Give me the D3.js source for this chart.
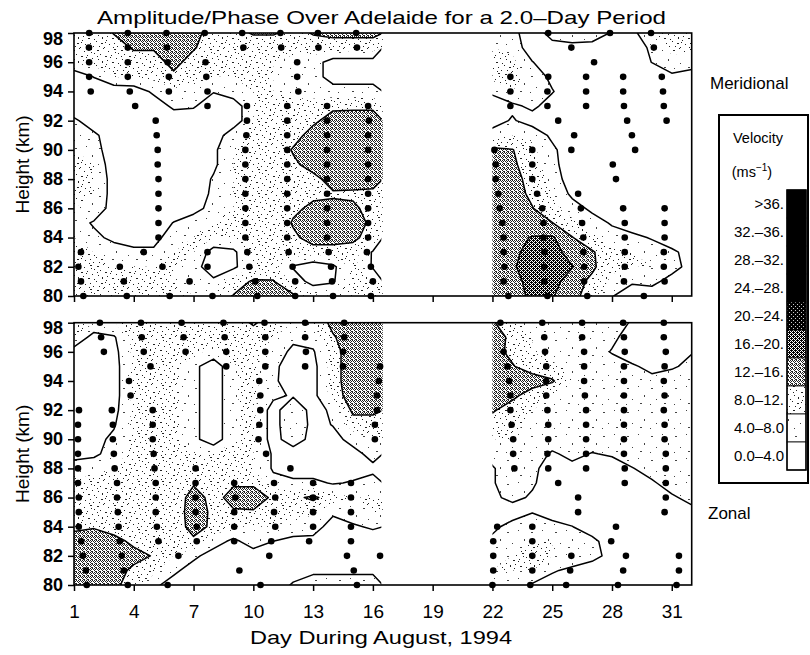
<!DOCTYPE html>
<html>
<head>
<meta charset="utf-8">
<script src="https://cdnjs.cloudflare.com/ajax/libs/d3/7.8.5/d3.min.js"></script>
<style>
  body { margin: 0; background: #fff; }
  text { font-family: 'Liberation Sans', Arial, sans-serif; fill: #000; }
</style>
</head>
<body>
<div id="chart"></div>
<script>
// grid rows run from 98 km (top) down to 80 km
const heights = d3.range(98, 79, -1)
const leftDays = d3.range(1, 17)
const rightDays = d3.range(22, 33)
const dayTicks = [1, 4, 7, 10, 13, 16, 19, 22, 25, 28, 31]
const heightTicks = d3.range(80, 99, 2)
const levels = [4, 8, 12, 16, 20, 24]
const lineLevels = [4, 12, 16, 20, 24]
const legendLabels = ['>36.', '32.\u201336.', '28.\u201332.', '24.\u201328.', '20.\u201324.',
  '16.\u201320.', '12.\u201316.', '8.0\u201312.', '4.0\u20138.0', '0.0\u20134.0']

// meridional amplitude (m/s), days 1..16
const merLeft = [
  [9, 9.5, 12.2, 14, 15, 15, 13.5, 10, 10, 12.5, 12.5, 10.5, 12.3, 13, 13, 13],
  [9.5, 9.5, 10, 12.5, 12.5, 14, 12.5, 9, 8.5, 9, 9, 9, 10, 10, 10, 10],
  [9, 9.5, 9.5, 10, 10, 13.5, 10, 9, 8, 8, 8, 7, 6, 2, 2, 2],
  [0, 4.2, 8, 9, 9, 11, 9, 8, 8, 8, 8, 7, 6, 2, 2, 2],
  [0, 0, 1, 1, 5, 7, 7, 4.3, 7, 8, 8, 7, 7, 6, 6, 6],
  [0, 1, 1, 1, 1, 5, 4.5, 1, 1, 8, 8, 9, 9, 11, 11, 11],
  [5, 1, 1, 1, 1, 1, 1, 1, 1, 8, 9, 10, 11, 14, 14.5, 14.5],
  [7, 5, 1, 1, 1, 1, 1, 1, 7, 9, 9, 10, 14, 15, 15, 15],
  [8, 6, 1, 1, 1, 1, 1, 3, 8, 9, 8, 12.5, 15, 15, 15, 15],
  [8, 8, 1, 1, 1, 1, 1, 3, 8, 9, 9, 11, 14, 15, 15, 14.5],
  [8, 8, 2, 1, 1, 1, 1, 4.5, 8, 9, 9, 10, 10.5, 14, 13.5, 13],
  [8, 8, 2, 1, 1, 1, 1, 5, 8, 9, 9, 10, 11, 11.5, 11.5, 11.5],
  [8, 7, 2, 1, 1, 1, 2, 6, 8, 9, 9, 11, 13, 13, 12.5, 11],
  [6, 3.5, 1, 1, 1, 4.2, 7, 8, 8, 9, 8, 12.5, 14, 14, 14, 11],
  [8, 5, 3, 2, 2, 7, 8, 8, 8, 9, 9, 11, 14, 14, 13, 10],
  [8, 8, 6, 5, 5, 8, 8, 2, 3, 9, 9, 10, 10, 10, 10, 3.5],
  [8, 8, 8, 8, 8, 8, 6, 1, 3, 8, 9, 3.5, 1, 3, 9, 3.5],
  [8, 8, 8, 8, 8, 8, 6, 5, 10, 12.5, 12.3, 7, 2, 3.5, 9, 8],
  [8, 8, 8, 8, 8, 8, 8, 8, 12.2, 13.5, 14, 12.8, 9, 8, 8, 8]
]

// meridional amplitude, days 22..32
const merRight = [
  [8, 5.5, 1, 6, 8, 7, 3.5, 2.5, 8, 9, 9],
  [8, 7, 1, 2, 2, 2, 1, 1, 5, 9, 9],
  [9, 9, 4.2, 1, 1, 1, 1, 1, 4.1, 7, 5],
  [9, 9, 7, 2.7, 1, 1, 1, 1, 1, 3, 3],
  [5, 8, 7, 4.3, 1, 1, 1, 1, 1, 1, 1],
  [1, 3, 5, 2, 1, 1, 1, 1, 1, 1, 1],
  [2, 4.5, 2, 1, 1, 1, 1, 1, 1, 1, 1],
  [6, 8, 7, 3, 1, 1, 1, 1, 1, 1, 1],
  [13, 12.2, 9, 5, 1, 1, 1, 1, 1, 1, 1],
  [14, 13, 9, 5.5, 1, 1, 1, 1, 1, 1, 1],
  [14, 13.5, 10.5, 7, 1, 1, 1, 1, 1, 1, 1],
  [14, 14, 11, 8, 3, 1, 1, 1, 1, 1, 1],
  [14.5, 14, 12.2, 9, 6, 3, 1, 1, 1, 1, 1],
  [15, 14.5, 14, 12.1, 9, 6, 3.5, 1, 1, 1, 1],
  [15, 15, 16.2, 16.5, 12.2, 9, 6, 5.5, 3.5, 1, 1],
  [14.5, 15, 17.5, 18, 14, 12.5, 9, 8, 7, 5, 2],
  [14, 15.5, 18, 18.5, 16.2, 12.8, 9, 8, 8, 6, 2],
  [13.5, 15, 17, 17.5, 14, 11, 7, 4.5, 5.5, 2, 1],
  [13, 14, 17, 16.4, 13, 10.5, 4.2, 2, 1, 1, 1]
]

// zonal amplitude, days 1..16
const zonLeft = [
  [8, 8, 8, 9, 9, 9, 9, 9, 9, 12.8, 9, 8, 8, 13.5, 15, 15],
  [8, 2, 3.5, 9, 9, 9, 9, 9, 9, 9, 8, 5, 6, 11.5, 15, 15],
  [2, 1, 2.5, 9, 9, 9, 9, 7, 9, 9, 6.3, 3, 3.5, 10, 15, 15],
  [1.5, 1, 2, 9, 9, 9, 5.3, 1, 7.7, 9, 5.3, 1, 2.5, 10, 15, 15],
  [1.5, 1, 2, 9, 9, 9, 5.3, 1, 7.7, 9, 5, 1, 2.5, 10, 15, 15],
  [1.5, 1, 2, 9, 9, 9, 5.3, 1, 7.7, 9, 5, 3.5, 2.5, 10, 14, 14],
  [2, 1.5, 2.5, 9, 9, 9, 5.3, 1, 7.7, 8.7, 2, 8, 2, 5, 13, 13],
  [2, 2, 3.5, 9, 9, 9, 5.3, 1, 7.7, 8.7, 2, 8, 2.5, 4.2, 10, 10],
  [2, 2.5, 5, 9, 9, 9, 5.3, 1, 7.7, 8.7, 2, 7, 2, 2.5, 5.5, 8],
  [2.5, 3, 6, 9, 9, 9, 8, 8.5, 9, 8, 3.5, 1, 1, 1.5, 2.5, 5.5],
  [6, 7, 8, 9, 9, 9, 9, 9, 9, 8, 3.5, 1, 1, 1, 1.5, 3],
  [9, 9, 9, 9, 9, 9, 11.5, 10, 11.5, 11.5, 5.3, 5.3, 5.3, 3.5, 4.5, 5.5],
  [9, 9, 9, 9, 9, 9, 14, 10.5, 13.5, 13.5, 11.5, 11, 12.8, 10, 8, 8],
  [9, 9, 9, 9, 9, 9, 14.5, 11, 11.5, 11.7, 9, 9, 9, 4.6, 6, 8],
  [11, 11.7, 10, 9, 9, 9, 14, 11, 8, 8, 8, 6, 5.5, 2.5, 3.5, 4.5],
  [14, 14, 13.5, 11, 9, 9, 11, 6, 3, 6, 4, 3, 3, 2, 2, 2],
  [15, 15, 14.5, 13.5, 11.7, 8, 5, 2, 2, 2, 2, 2, 2, 2, 2, 2],
  [15, 14.5, 14, 11, 9, 5, 2, 1.5, 1.5, 1.5, 1.5, 2, 3, 3, 3, 3],
  [14, 14, 13, 10, 5, 2, 1, 1, 1, 1, 1.5, 4.5, 6.5, 6.5, 6.5, 6.5]
]

// zonal amplitude, days 22..32
const zonRight = [
  [12.5, 9, 7, 6, 6, 6, 5, 3.8, 1.5, 1.5, 1.5],
  [13, 11.5, 8, 6, 6, 6, 5, 2, 1.5, 1.5, 2],
  [13.5, 11, 8, 6, 6, 6, 3.7, 2, 2, 2.5, 3.8],
  [14, 12.3, 10, 9, 7, 6, 6, 4.5, 3, 3.5, 5],
  [14.5, 14, 14, 12.5, 8, 6, 6, 6, 5, 6, 6],
  [14, 13, 10, 8, 6, 6, 6, 6, 6, 6, 6],
  [12.5, 10, 8, 7, 6, 6, 6, 6, 6, 6, 6],
  [10, 9, 7, 6, 6, 6, 6, 6, 6, 6, 6],
  [8, 8, 7, 6, 6, 6, 6, 6, 6, 6, 6],
  [6, 7, 6, 3.5, 5, 3.8, 4.5, 6, 6, 6, 6],
  [3.5, 7, 5, 2, 3, 2, 2, 3.8, 5.5, 6, 6],
  [3.5, 7, 4.5, 2, 1.5, 1.5, 1.5, 2, 3.5, 5.5, 6],
  [3.2, 5, 3.5, 1.5, 1, 1, 1, 1.5, 2, 3.5, 5],
  [2, 2, 3.8, 2, 1.5, 1, 1, 1, 1, 3, 3],
  [3, 5.5, 7, 5.5, 4.1, 2, 1, 1, 1, 1, 1],
  [5, 7, 8, 8, 7, 5, 2, 1, 1, 1, 1],
  [7, 8, 9, 8, 7, 5.5, 2.5, 1, 1, 1, 1],
  [8, 8, 8, 4.5, 3, 1.5, 1, 1, 1, 1, 1],
  [7, 6, 3.5, 2, 1, 1, 1, 1, 1, 1, 1]
]

// phase markers: [height, days]
const merDots = [
  [98, [1.76, 3.7, 5.64, 7.56, 9.44, 11.36, 13.24, 15.16, 24.8, 27.9, 29.96]],
  [97, [1.75, 3.7, 5.66, 9.5, 11.4, 13.27, 15.2, 25.96, 30.1]],
  [96, [1.76, 3.7, 5.7, 7.6, 12.2, 27.1]],
  [95, [1.76, 3.7, 5.76, 7.64, 12.2, 22.9, 24.8, 26.7, 28.56, 30.5]],
  [94, [1.84, 3.8, 5.76, 7.7, 12.26, 22.9, 24.76, 26.7, 28.56, 30.56]],
  [93, [4.07, 7.7, 9.68, 11.7, 13.7, 15.76, 22.9, 24.76, 26.7, 28.6, 30.6]],
  [92, [5.1, 9.68, 11.7, 13.7, 15.8, 25.3, 28.76, 30.74]],
  [91, [5.15, 9.65, 11.7, 13.7, 15.76, 26.1, 29.0]],
  [90, [5.2, 9.6, 11.7, 13.7, 15.76, 22.1, 24.0, 25.96, 29.16]],
  [89, [5.2, 9.6, 11.7, 13.7, 15.76, 22.16, 24.0, 28.04]],
  [88, [5.24, 9.6, 11.7, 13.7, 15.76, 22.16, 24.0, 28.2]],
  [87, [5.24, 9.6, 11.7, 13.7, 15.76, 22.3, 24.24, 26.3]],
  [86, [5.24, 9.6, 11.7, 13.7, 15.76, 22.36, 24.5, 26.44, 28.56, 30.64]],
  [85, [5.24, 9.6, 11.7, 13.7, 15.76, 22.5, 24.56, 26.5, 28.64, 30.64]],
  [84, [5.24, 9.6, 11.7, 13.7, 15.76, 22.56, 24.56, 26.56, 28.64, 30.64]],
  [83, [1.35, 4.5, 7.7, 9.7, 11.77, 13.78, 15.7, 22.56, 24.6, 26.56, 28.64, 30.6]],
  [82, [1.22, 3.3, 5.44, 7.7, 9.8, 11.97, 13.9, 15.9, 22.6, 24.6, 26.6, 28.64, 30.6]],
  [81, [1.35, 3.5, 6.8, 10.1, 12.1, 13.95, 16.0, 22.56, 24.6, 26.6, 28.6, 30.64]],
  [80, [1.47, 3.65, 5.8, 7.95, 10.2, 12.1, 14.0, 15.9, 22.8, 24.76, 26.76, 29.6]]
]

const zonDots = [
  [98, [2.3, 4.36, 6.4, 8.5, 10.56, 12.6, 14.56, 22.4, 24.5, 26.5, 28.56, 30.6]],
  [97, [2.36, 4.4, 6.5, 8.56, 10.6, 12.6, 14.56, 24.6, 26.5, 28.6, 30.6]],
  [96, [2.5, 4.5, 6.6, 8.64, 10.6, 12.64, 14.5, 22.56, 24.64, 26.6, 28.64, 30.7]],
  [95, [4.84, 8.64, 10.6, 12.6, 14.5, 16.36, 22.76, 24.7, 26.6, 28.6, 30.64]],
  [94, [3.76, 10.3, 16.3, 22.84, 24.7, 26.6, 28.6, 30.6]],
  [93, [3.84, 10.35, 16.2, 22.9, 24.7, 26.64, 28.6, 30.64]],
  [92, [1.25, 2.9, 4.95, 10.35, 16.2, 22.9, 24.76, 26.7, 28.6, 30.6]],
  [91, [1.2, 2.95, 4.95, 10.3, 16.1, 22.96, 24.8, 26.7, 28.6, 30.64]],
  [90, [1.2, 2.95, 4.95, 10.26, 16.1, 23.04, 24.8, 26.7, 28.6, 30.64]],
  [89, [1.2, 3.0, 5.0, 10.64, 23.04, 24.76, 26.7, 28.6, 30.7]],
  [88, [1.2, 3.04, 5.04, 7.1, 11.86, 23.1, 24.8, 26.7, 28.64, 30.7]],
  [87, [1.2, 3.16, 5.1, 7.1, 9.04, 11.04, 13.0, 14.9, 25.3, 28.64, 30.7]],
  [86, [1.24, 3.16, 5.1, 7.1, 9.1, 11.1, 13.0, 14.9, 26.3, 30.7]],
  [85, [1.24, 3.2, 5.1, 7.1, 9.04, 11.04, 13.0, 14.9, 26.3, 30.64]],
  [84, [1.24, 3.24, 5.16, 7.16, 9.04, 11.1, 13.0, 14.9, 22.24, 24.0, 28.2]],
  [83, [1.36, 3.3, 5.24, 7.16, 9.04, 10.9, 12.8, 14.9, 22.04, 24.0, 27.96]],
  [82, [1.44, 3.4, 6.24, 10.8, 14.7, 16.36, 22.04, 24.0, 25.96, 28.7, 31.36]],
  [81, [1.6, 3.5, 9.3, 15.04, 22.04, 24.0, 25.9, 28.56, 31.36]],
  [80, [1.64, 3.7, 5.7, 10.36, 15.2, 22.0, 23.9, 25.7, 28.3, 31.24]]
]

const W = 810
const H = 655

const svg = d3.select('#chart').append('svg')
  .attr('width', W)
  .attr('height', H)

const x = d3.scaleLinear().domain([1, 32]).range([74, 691.7])
const yTop = d3.scaleLinear().domain([80, 98]).range([296, 33])
const yBot = d3.scaleLinear().domain([80, 98]).range([585, 322.7])

/* stipple / shading patterns */
const defs = svg.append('defs')

function pattern(id, size, bg, fg, pixels) {
  const p = defs.append('pattern')
    .attr('id', id)
    .attr('patternUnits', 'userSpaceOnUse')
    .attr('width', size)
    .attr('height', size)
  p.append('rect').attr('width', size).attr('height', size).attr('fill', bg)
  p.selectAll('.px')
    .data(pixels)
    .join('rect')
    .attr('class', 'px')
    .attr('x', d => d[0])
    .attr('y', d => d[1])
    .attr('width', d => d[2] || 1)
    .attr('height', d => d[3] || 1)
    .attr('fill', fg)
    .attr('shape-rendering', 'crispEdges')
}

pattern('p0', 4, '#fff', '#fff', [])
pattern('p1', 24, '#fff', '#444', [[3, 4, 2], [14, 2], [20, 11, 1, 2], [8, 15], [16, 19, 2], [2, 20]])
pattern('p2', 24, '#fff', '#222', [
  [1, 2, 2], [7, 0], [12, 3], [18, 1, 2], [22, 5], [4, 6], [9, 8, 2], [15, 7], [20, 10],
  [2, 11], [6, 13, 1, 2], [11, 12], [16, 14, 2], [22, 15], [0, 17], [5, 19, 2], [9, 18],
  [13, 20], [18, 19], [21, 22], [3, 22], [8, 23], [14, 9], [19, 4], [10, 16], [1, 8], [17, 23]
])
pattern('p3', 4, '#fff', '#222', [[0, 0], [2, 0], [1, 1], [3, 1], [2, 2], [0, 3], [3, 3]])
pattern('p4', 4, '#fff', '#000', [[0, 0], [1, 0], [2, 0], [1, 1], [3, 1], [0, 2], [2, 2], [3, 2], [1, 3], [3, 3]])
pattern('p5', 4, '#000', '#ccc', [[1, 0], [3, 2]])
pattern('p6', 4, '#000', '#000', [])

const fillIds = ['p1', 'p2', 'p3', 'p4', 'p5', 'p6']

function clipRect(id, x0, x1, y0, y1) {
  defs.append('clipPath').attr('id', id)
    .append('rect')
    .attr('x', x0)
    .attr('y', y0)
    .attr('width', x1 - x0)
    .attr('height', y1 - y0)
}

function drawField(g, grid, days, y, fillClip, lineClip) {
  const polys = d3.contours()
    .size([days.length, grid.length])
    .thresholds(levels)(grid.flat())

  const proj = d3.geoTransform({
    point: function (gx, gy) {
      this.stream.point(x(days[0] + gx - 0.5), y(heights[0] - gy + 0.5))
    }
  })
  const path = d3.geoPath(proj)

  g.append('g')
    .attr('clip-path', 'url(#' + fillClip + ')')
    .selectAll('path')
    .data(polys)
    .join('path')
    .attr('d', path)
    .attr('fill', d => 'url(#' + fillIds[levels.indexOf(d.value)] + ')')

  g.append('g')
    .attr('clip-path', 'url(#' + lineClip + ')')
    .selectAll('path')
    .data(polys.filter(d => lineLevels.includes(d.value)))
    .join('path')
    .attr('d', path)
    .attr('fill', 'none')
    .attr('stroke', '#000')
    .attr('stroke-width', 1.5)
    .attr('stroke-linejoin', 'round')
}

function drawPanel(name, y, leftGrid, rightGrid, dots, showLabels) {
  const g = svg.append('g').attr('class', 'panel-' + name)
  const y0 = y(98)
  const y1 = y(80)

  clipRect(name + '-lf', x(1), x(16.5), y0, y1)
  clipRect(name + '-ll', x(1), x(16.5) - 1.5, y0, y1)
  clipRect(name + '-rf', x(22), x(32), y0, y1)

  drawField(g, leftGrid, leftDays, y, name + '-lf', name + '-ll')
  drawField(g, rightGrid, rightDays, y, name + '-rf', name + '-rf')

  // frame
  g.append('rect')
    .attr('x', x(1))
    .attr('y', y0)
    .attr('width', x(32) - x(1))
    .attr('height', y1 - y0)
    .attr('fill', 'none')
    .attr('stroke', '#000')
    .attr('stroke-width', 1.6)

  const yAxis = d3.axisLeft(y).tickValues(heightTicks).tickSize(6).tickPadding(5)
  const ya = g.append('g')
    .attr('transform', 'translate(' + x(1) + ',0)')
    .call(yAxis)
  ya.select('.domain').remove()
  ya.selectAll('line').attr('stroke-width', 1.5)
  ya.selectAll('text')
    .style('font-size', '18px')
    .style('font-weight', 'bold')
    .attr('dy', d => d === 98 ? '0.62em' : '0.3em')

  const xAxis = d3.axisBottom(x).tickValues(dayTicks).tickSize(6).tickPadding(14)
  if (!showLabels) xAxis.tickFormat('')
  const xa = g.append('g')
    .attr('transform', 'translate(0,' + y1 + ')')
    .call(xAxis)
  xa.select('.domain').remove()
  xa.selectAll('line').attr('stroke-width', 1.5)
  xa.selectAll('text').style('font-size', '19px')

  // phase markers
  const pts = dots.flatMap(([h, days]) => days.map(d => ({ h: h, d: d })))
  g.append('g')
    .selectAll('circle')
    .data(pts)
    .join('circle')
    .attr('cx', d => x(d.d))
    .attr('cy', d => y(d.h))
    .attr('r', 3.3)
    .attr('fill', '#000')

  g.append('text')
    .attr('transform', 'translate(29,' + ((y0 + y1) / 2) + ') rotate(-90)')
    .attr('text-anchor', 'middle')
    .style('font-size', '19px')
    .text('Height (km)')
}

drawPanel('mer', yTop, merLeft, merRight, merDots, false)
drawPanel('zon', yBot, zonLeft, zonRight, zonDots, true)

svg.append('text')
  .attr('x', 97)
  .attr('y', 24)
  .attr('textLength', 569)
  .attr('lengthAdjust', 'spacingAndGlyphs')
  .style('font-size', '19px')
  .text('Amplitude/Phase Over Adelaide for a 2.0\u2013Day Period')

svg.append('text')
  .attr('x', 250)
  .attr('y', 644)
  .attr('textLength', 262)
  .attr('lengthAdjust', 'spacingAndGlyphs')
  .style('font-size', '19px')
  .text('Day During August, 1994')

svg.append('text')
  .attr('x', 710)
  .attr('y', 89)
  .style('font-size', '17px')
  .text('Meridional')

svg.append('text')
  .attr('x', 708)
  .attr('y', 519)
  .style('font-size', '17px')
  .text('Zonal')

/* legend */
const legend = svg.append('g')

legend.append('rect')
  .attr('x', 719)
  .attr('y', 115)
  .attr('width', 89)
  .attr('height', 368)
  .attr('fill', '#fff')
  .attr('stroke', '#000')
  .attr('stroke-width', 2)

legend.append('text')
  .attr('x', 758)
  .attr('y', 143)
  .attr('text-anchor', 'middle')
  .style('font-size', '14.5px')
  .text('Velocity')

const unit = legend.append('text')
  .attr('x', 752)
  .attr('y', 177)
  .attr('text-anchor', 'middle')
  .style('font-size', '14.5px')
unit.append('tspan').text('(ms')
unit.append('tspan').attr('dy', -6).style('font-size', '10px').text('\u22121')
unit.append('tspan').attr('dy', 6).text(')')

const legendFills = ['p6', 'p6', 'p6', 'p6', 'p5', 'p4', 'p3', 'p2', 'p1', 'p0']
const cellY = d3.scaleBand().domain(d3.range(legendLabels.length)).range([190, 470])

legend.selectAll('.cell')
  .data(legendLabels)
  .join('rect')
  .attr('class', 'cell')
  .attr('x', 787)
  .attr('y', (d, i) => cellY(i))
  .attr('width', 19)
  .attr('height', cellY.bandwidth())
  .attr('fill', (d, i) => 'url(#' + legendFills[i] + ')')
  .attr('stroke', '#000')
  .attr('stroke-width', 0.8)

legend.append('rect')
  .attr('x', 787)
  .attr('y', 190)
  .attr('width', 19)
  .attr('height', 280)
  .attr('fill', 'none')
  .attr('stroke', '#000')
  .attr('stroke-width', 1.5)

legend.selectAll('.lab')
  .data(legendLabels)
  .join('text')
  .attr('class', 'lab')
  .attr('x', 784)
  .attr('y', (d, i) => cellY(i) + cellY.bandwidth() / 2)
  .attr('dy', '0.35em')
  .attr('text-anchor', 'end')
  .style('font-size', '15px')
  .text(d => d)
</script>
</body>
</html>
